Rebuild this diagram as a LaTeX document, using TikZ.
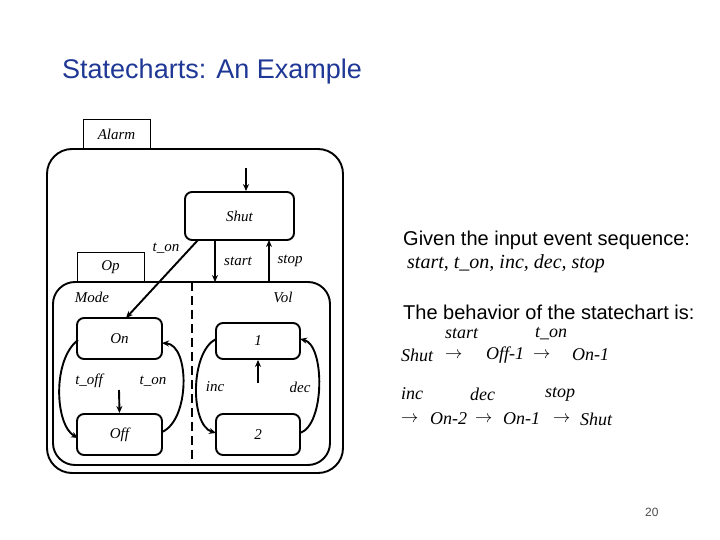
\documentclass[tikz,border=0pt]{standalone}
\usepackage{fontspec}
\setmainfont{Liberation Sans}
\newfontfamily\tms{Liberation Serif}
\usetikzlibrary{arrows.meta}
\definecolor{ttl}{RGB}{31,56,150}
\begin{document}
\begin{tikzpicture}[x=1pt,y=-1pt,
  st/.style={draw,line width=1.9pt,rounded corners=7pt},
  lbl/.style={font=\tms\itshape\fontsize{15}{17}\selectfont,inner sep=0pt},
  rt/.style={font=\tms\itshape\fontsize{18}{20}\selectfont,inner sep=0pt,anchor=west},
  sans/.style={font=\fontsize{20}{23}\selectfont,inner sep=0pt,anchor=west},
  tr/.style={line width=1.9pt,-{Stealth[length=7pt,width=6pt]}}]
\useasboundingbox[fill=white] (0,0) rectangle (720,540);
\node[sans,font=\fontsize{27}{31}\selectfont,text=ttl] (title) at (62,72) {Statecharts: An Example};
% Alarm
\node[draw,line width=1pt,minimum width=67pt,minimum height=29pt,inner sep=0pt,lbl] (alarmtab) at (116.5,134.5) {Alarm};
\draw[st,rounded corners=25pt] (47,149) rectangle (343,473);
\node[draw,line width=1pt,minimum width=67pt,minimum height=30pt,inner sep=0pt,lbl] (optab) at (110.5,267) {Op};
\draw[st,rounded corners=22pt] (53,282) rectangle (330,465);
\coordinate (dtop) at (192,282); \coordinate (dbot) at (192,465);
\draw[line width=1.9pt,dash pattern=on 9pt off 5pt] (dtop) -- (dbot);
\node[lbl] (mode) at (92,297) {Mode};
\node[lbl] (vol) at (283,297) {Vol};
% states
\node[st,minimum width=109pt,minimum height=48pt,lbl] (shut) at (239.5,216) {Shut};
\node[st,minimum width=85pt,minimum height=41pt,lbl] (on) at (119.5,338.5) {On};
\node[st,minimum width=85pt,minimum height=41pt,lbl] (off) at (119.5,434.5) {Off};
\node[st,minimum width=84pt,minimum height=36pt,lbl] (one) at (258,341) {1};
\node[st,minimum width=84pt,minimum height=41pt,lbl] (two) at (258,434.5) {2};
% initial arrows
\coordinate (i1) at (246,168); \draw[tr] (i1) -- (shut.north -| i1);
\coordinate (i2) at (119,390); \draw[tr] (i2) -- (off.north);
\coordinate (i3) at (258,383); \draw[tr] (i3) -- (one.south);
% transitions
\draw[tr] (198,240) -- (126,318);
\node[lbl] (lton) at (166,248) {t\_on};
\draw[tr] (215,240) -- (215,282);
\node[lbl] (lstart) at (238,261) {start};
\draw[tr] (269,282) -- (269,240);
\node[lbl] (lstop) at (290,261) {stop};
\draw[tr] (78,340) .. controls (52,360) and (55,425) .. (78,438);
\node[lbl] (ltoff) at (89,381) {t\_off};
\draw[tr] (162,432) .. controls (190,420) and (190,345) .. (162,343);
\node[lbl] (lton2) at (153,381) {t\_on};
\draw[tr] (216,339) .. controls (190,352) and (190,425) .. (216,433);
\node[lbl] (linc) at (215,387) {inc};
\draw[tr] (300,433) .. controls (325,425) and (325,345) .. (300,339);
\node[lbl] (ldec) at (300,387) {dec};
% right text
\node[sans] (g1) at (403,240) {Given the input event sequence:};
\node[rt,font=\tms\itshape\fontsize{20}{23}\selectfont] (g2) at (407,264) {start, t\_on, inc, dec, stop};
\node[sans] (g3) at (403,312) {The behavior of the statechart is:};
\node[rt] (a1) at (445,334) {start};
\node[rt] (a2) at (535,334) {t\_on};
\node[rt] (b1) at (401,355) {Shut};
\node[rt] (b2) at (445,355) {$\rightarrow$};
\node[rt] (b3) at (486,355) {Off-1};
\node[rt] (b4) at (533,355) {$\rightarrow$};
\node[rt] (b5) at (572,355) {On-1};
\node[rt] (a4) at (401,394) {inc};
\node[rt] (a5) at (470,394) {dec};
\node[rt] (a6) at (545,394) {stop};
\node[rt] (c1) at (401,419) {$\rightarrow$};
\node[rt] (c2) at (430,419) {On-2};
\node[rt] (c3) at (475,419) {$\rightarrow$};
\node[rt] (c4) at (503,419) {On-1};
\node[rt] (c5) at (553,419) {$\rightarrow$};
\node[rt] (c6) at (580,419) {Shut};
\node[sans,font=\fontsize{12}{14}\selectfont,text=black!70] (pg) at (645,512) {20};
\end{tikzpicture}
\end{document}
